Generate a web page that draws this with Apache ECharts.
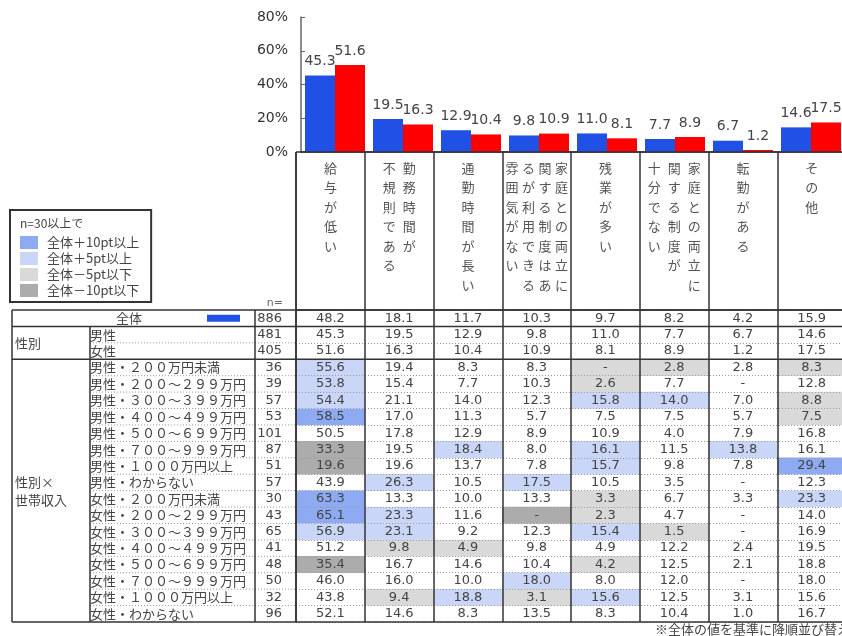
<!DOCTYPE html>
<html>
<head>
<meta charset="utf-8">
<script src="https://cdn.jsdelivr.net/npm/echarts@6/dist/echarts.min.js"></script>
<style>
html,body{margin:0;padding:0;background:#fff;}
#c{width:842px;height:636px;}
</style>
</head>
<body>
<div id="c"></div>
<script>
// 理由（「|」は縦書きの列の区切り。右の列から順に並ぶ）
const reasons = [
  '給与が低い',
  '勤務時間が|不規則である',
  '通勤時間が長い',
  '家庭との両立に|関する制度はあ|るが利用できる|雰囲気がない',
  '残業が多い',
  '家庭との両立に|関する制度が|十分でない',
  '転勤がある',
  'その他'
];

// 表の行見出しとサンプル数
const rowLabels = [
  '全体', '男性', '女性',
  '男性・２００万円未満', '男性・２００～２９９万円', '男性・３００～３９９万円',
  '男性・４００～４９９万円', '男性・５００～６９９万円', '男性・７００～９９９万円',
  '男性・１０００万円以上', '男性・わからない',
  '女性・２００万円未満', '女性・２００～２９９万円', '女性・３００～３９９万円',
  '女性・４００～４９９万円', '女性・５００～６９９万円', '女性・７００～９９９万円',
  '女性・１０００万円以上', '女性・わからない'
];
const rowN = [886, 481, 405, 36, 39, 57, 53, 101, 87, 51, 57, 30, 43, 65, 41, 48, 50, 32, 96];

// 各行の値（%）。0 は「-」として表示
const total  = [48.2, 18.1, 11.7, 10.3,  9.7,  8.2,  4.2, 15.9];
const male   = [45.3, 19.5, 12.9,  9.8, 11.0,  7.7,  6.7, 14.6];
const female = [51.6, 16.3, 10.4, 10.9,  8.1,  8.9,  1.2, 17.5];
const mU200  = [55.6, 19.4,  8.3,  8.3,  0,    2.8,  2.8,  8.3];
const m200   = [53.8, 15.4,  7.7, 10.3,  2.6,  7.7,  0,   12.8];
const m300   = [54.4, 21.1, 14.0, 12.3, 15.8, 14.0,  7.0,  8.8];
const m400   = [58.5, 17.0, 11.3,  5.7,  7.5,  7.5,  5.7,  7.5];
const m500   = [50.5, 17.8, 12.9,  8.9, 10.9,  4.0,  7.9, 16.8];
const m700   = [33.3, 19.5, 18.4,  8.0, 16.1, 11.5, 13.8, 16.1];
const m1000  = [19.6, 19.6, 13.7,  7.8, 15.7,  9.8,  7.8, 29.4];
const mUnk   = [43.9, 26.3, 10.5, 17.5, 10.5,  3.5,  0,   12.3];
const fU200  = [63.3, 13.3, 10.0, 13.3,  3.3,  6.7,  3.3, 23.3];
const f200   = [65.1, 23.3, 11.6,  0,    2.3,  4.7,  0,   14.0];
const f300   = [56.9, 23.1,  9.2, 12.3, 15.4,  1.5,  0,   16.9];
const f400   = [51.2,  9.8,  4.9,  9.8,  4.9, 12.2,  2.4, 19.5];
const f500   = [35.4, 16.7, 14.6, 10.4,  4.2, 12.5,  2.1, 18.8];
const f700   = [46.0, 16.0, 10.0, 18.0,  8.0, 12.0,  0,   18.0];
const f1000  = [43.8,  9.4, 18.8,  3.1, 15.6, 12.5,  3.1, 15.6];
const fUnk   = [52.1, 14.6,  8.3, 13.5,  8.3, 10.4,  1.0, 16.7];

const tableRows = [total, male, female, mU200, m200, m300, m400, m500, m700, m1000, mUnk,
                   fU200, f200, f300, f400, f500, f700, f1000, fUnk];

// 棒グラフの目盛
const yTicks = { min: 0, max: 80, interval: 20 };

// 網掛けの凡例
const levelNames = ['全体＋10pt以上', '全体＋5pt以上', '全体－5pt以下', '全体－10pt以下'];
const levelColors = ['#8eaaf2', '#cad6f8', '#d9d9d9', '#acacac'];

const CJK = '"Noto Sans CJK JP", sans-serif';
const NUM = '"DejaVu Sans", "Noto Sans CJK JP", sans-serif';
const TXT = '#444';
const LINE = '#333';

const fmt = v => (v === 0 ? '-' : v.toFixed(1));

// n=30以上の行で、全体との差に応じて網掛けの段階を決める
function shadeLevel(v, base) {
  const d = Math.round((v - base) * 10) / 10;
  if (d >= 10) return 0;
  if (d >= 5) return 1;
  if (d <= -10) return 3;
  if (d <= -5) return 2;
  return -1;
}
const cellSets = [[], [], [], [], []];
tableRows.forEach((row, r) => row.forEach((v, c) => {
  const lv = (r > 0 && rowN[r] >= 30) ? shadeLevel(v, total[c]) : -1;
  cellSets[lv < 0 ? 4 : lv].push([c, r, v]);
}));

// 縦書きの見出し：右の列から左へ、1文字ずつ積む（列が多いときは字間を詰める）
function verticalLabel(name) {
  const cols = name.split('|').reverse();
  const key = cols.length > 3 ? 'chn' : 'ch';
  const rows = Math.max.apply(null, cols.map(c => c.length));
  const lines = [];
  for (let r = 0; r < rows; r++) {
    lines.push(cols.map(c => '{' + key + '|' + (c[r] || '\u3000') + '}').join(''));
  }
  return lines.join('\n');
}

const cellLabel = {
  show: true,
  formatter: p => fmt(p.value[2]),
  color: TXT, fontSize: 13, fontFamily: NUM
};

const shadeSeries = levelNames.map((nm, k) => ({
  type: 'heatmap', name: nm, xAxisIndex: 1, yAxisIndex: 1,
  data: cellSets[k],
  itemStyle: { color: levelColors[k], borderWidth: 0 },
  label: cellLabel,
  emphasis: { disabled: true }
}));
shadeSeries.push({
  type: 'heatmap', name: 'plain', xAxisIndex: 1, yAxisIndex: 1,
  data: cellSets[4],
  itemStyle: { color: 'rgba(255,255,255,0)', borderWidth: 0 },
  label: cellLabel,
  emphasis: { disabled: true }
});

const barLabel = {
  show: true, position: 'top', distance: 7,
  formatter: p => fmt(p.value),
  color: TXT, fontSize: 14, fontFamily: NUM
};

const headChar = { lineHeight: 19.5, fontSize: 13, align: 'center', color: '#555', fontFamily: CJK };

const option = {
  backgroundColor: '#fff',
  animation: false,
  grid: [
    { left: 301, right: -3, top: 17, bottom: 484, outerBoundsMode: 'none' },
    { left: 296, right: -4, top: 310, bottom: 14, outerBoundsMode: 'none' }
  ],
  legend: {
    data: levelNames,
    orient: 'vertical',
    left: 10, top: 210,
    padding: [26, 12, 5, 10],
    borderColor: LINE, borderWidth: 2,
    itemWidth: 18, itemHeight: 13, itemGap: 3,
    icon: 'rect',
    selectedMode: false,
    textStyle: { fontFamily: CJK, fontSize: 13, color: TXT, padding: [0, 0, 0, 4] }
  },
  xAxis: [
    {
      type: 'category', gridIndex: 0, data: reasons,
      axisLine: { show: true, lineStyle: { color: LINE, width: 1.5 } },
      axisTick: { show: false },
      axisLabel: { show: false },
      splitLine: { show: false }
    },
    {
      type: 'category', gridIndex: 1, data: reasons, position: 'top', z: 4,
      axisLine: { show: true, lineStyle: { color: LINE, width: 1.5 } },
      axisTick: { show: true, interval: 0, length: 158, lineStyle: { color: LINE, width: 1.5 } },
      axisLabel: {
        interval: 0, margin: 152, verticalAlign: 'top',
        formatter: v => verticalLabel(v),
        rich: {
          ch: Object.assign({ width: 20 }, headChar),
          chn: Object.assign({ width: 16.5 }, headChar)
        }
      },
      splitLine: { show: true, interval: 0, lineStyle: { color: LINE, width: 1.5 } }
    }
  ],
  yAxis: [
    {
      type: 'value', gridIndex: 0,
      min: yTicks.min, max: yTicks.max, interval: yTicks.interval,
      axisLine: { show: true, lineStyle: { color: '#666', width: 1.5 } },
      axisTick: { show: true, inside: true, length: 4, lineStyle: { color: '#666' } },
      axisLabel: { formatter: '{value}%', margin: 13, fontSize: 14, color: '#333', fontFamily: NUM },
      splitLine: { show: false }
    },
    {
      type: 'category', gridIndex: 1, data: rowLabels, inverse: true, z: 4,
      axisLine: { show: false },
      axisTick: { show: false },
      axisLabel: {
        interval: 0, margin: 14,
        formatter: (v, i) => i === 0
          ? '{tot|' + v + '}{gap|\u3000}{mark|\u3000}{gap2|\u3000}{n|' + rowN[i] + '}'
          : '{name|' + v + '}{n|' + rowN[i] + '}',
        rich: {
          name: { width: 165, align: 'left', fontSize: 13, color: TXT, fontFamily: CJK },
          tot:  { width: 130, align: 'right', fontSize: 13, color: TXT, fontFamily: CJK },
          gap:  { width: 65, align: 'right', fontSize: 13 },
          mark: { width: 33, height: 7, align: 'right', fontSize: 6, color: 'rgba(0,0,0,0)',
                  backgroundColor: '#2050e6' },
          gap2: { width: 15, align: 'right', fontSize: 13 },
          n:    { width: 27, align: 'right', fontSize: 13, color: TXT, fontFamily: NUM }
        }
      },
      splitLine: { show: true, interval: 0, lineStyle: { color: '#9a9a9a', width: 1, type: [1, 2] } }
    }
  ],
  series: [
    {
      type: 'bar', name: '男性', xAxisIndex: 0, yAxisIndex: 0,
      data: male, barWidth: 30, barGap: '0%',
      itemStyle: { color: '#2050e6' }, label: barLabel
    },
    {
      type: 'bar', name: '女性', xAxisIndex: 0, yAxisIndex: 0,
      data: female, barWidth: 30, barGap: '0%',
      itemStyle: { color: '#ff0000' }, label: barLabel
    }
  ].concat(shadeSeries)
};

const chart = echarts.init(document.getElementById('c'), null, { renderer: 'canvas' });
chart.setOption(option);

// 表の罫線と補助テキスト（位置は軸から求める）
const cy = i => chart.convertToPixel({ yAxisIndex: 1 }, i);
const cx = i => chart.convertToPixel({ xAxisIndex: 1 }, i);
const band = cy(1) - cy(0);
const colBand = cx(1) - cx(0);
const lastRow = rowLabels.length - 1;
const yBelow = i => cy(i) + band / 2;
const tTop = cy(0) - band / 2;
const tBot = yBelow(lastRow);
const xLeft = 12, xGroup = 90, xN = 255;
const xVal = cx(0) - colBand / 2;
const xRight = cx(reasons.length - 1) + colBand / 2;
const yAxis0 = chart.convertToPixel({ yAxisIndex: 0 }, 0);

const solid = { stroke: LINE, lineWidth: 1.5 };
const dotted = { stroke: '#9a9a9a', lineWidth: 1, lineDash: [1, 2] };
const seg = (x1, y1, x2, y2, style) => ({
  type: 'line', z: 10, silent: true,
  shape: { x1: x1, y1: y1, x2: x2, y2: y2 }, style: style
});
const txt = (x, y, s, extra) => ({
  type: 'text', z: 10, silent: true, x: x, y: y,
  style: Object.assign({ text: s, fill: TXT, fontSize: 13, fontFamily: CJK,
                         align: 'left', verticalAlign: 'middle' }, extra || {})
});

const g = [];
// 見出し枠の上辺
g.push(seg(xVal, yAxis0, xRight, yAxis0, solid));
// 横の実線
[tTop, yBelow(0), yBelow(2), tBot].forEach(y => g.push(seg(xLeft, y, xRight, y, solid)));
// 行間の点線（左側の見出し部分）
for (let i = 1; i < lastRow; i++) {
  if (i === 2) continue;
  g.push(seg(xGroup, yBelow(i), xVal, yBelow(i), dotted));
}
// 縦の実線
g.push(seg(xLeft, tTop, xLeft, tBot, solid));
g.push(seg(xGroup, yBelow(0), xGroup, tBot, solid));
g.push(seg(xN, tTop, xN, tBot, solid));
g.push(seg(xVal, yAxis0, xVal, tBot, solid));
// 区分の見出し
g.push(txt(15, yBelow(1), '性別'));
g.push(txt(15, yBelow(10) - 9, '性別×'));
g.push(txt(15, yBelow(10) + 9, '世帯収入'));
// 凡例の見出し、n=、注記
g.push(txt(20, 223, 'n=30以上で', { fontSize: 12 }));
g.push(txt(283, 303, 'n=', { align: 'right', fontSize: 11, fill: '#666', fontFamily: NUM }));
g.push(txt(655, 629, '※全体の値を基準に降順並び替え', { fontSize: 13 }));

chart.setOption({ graphic: g });
</script>
</body>
</html>
